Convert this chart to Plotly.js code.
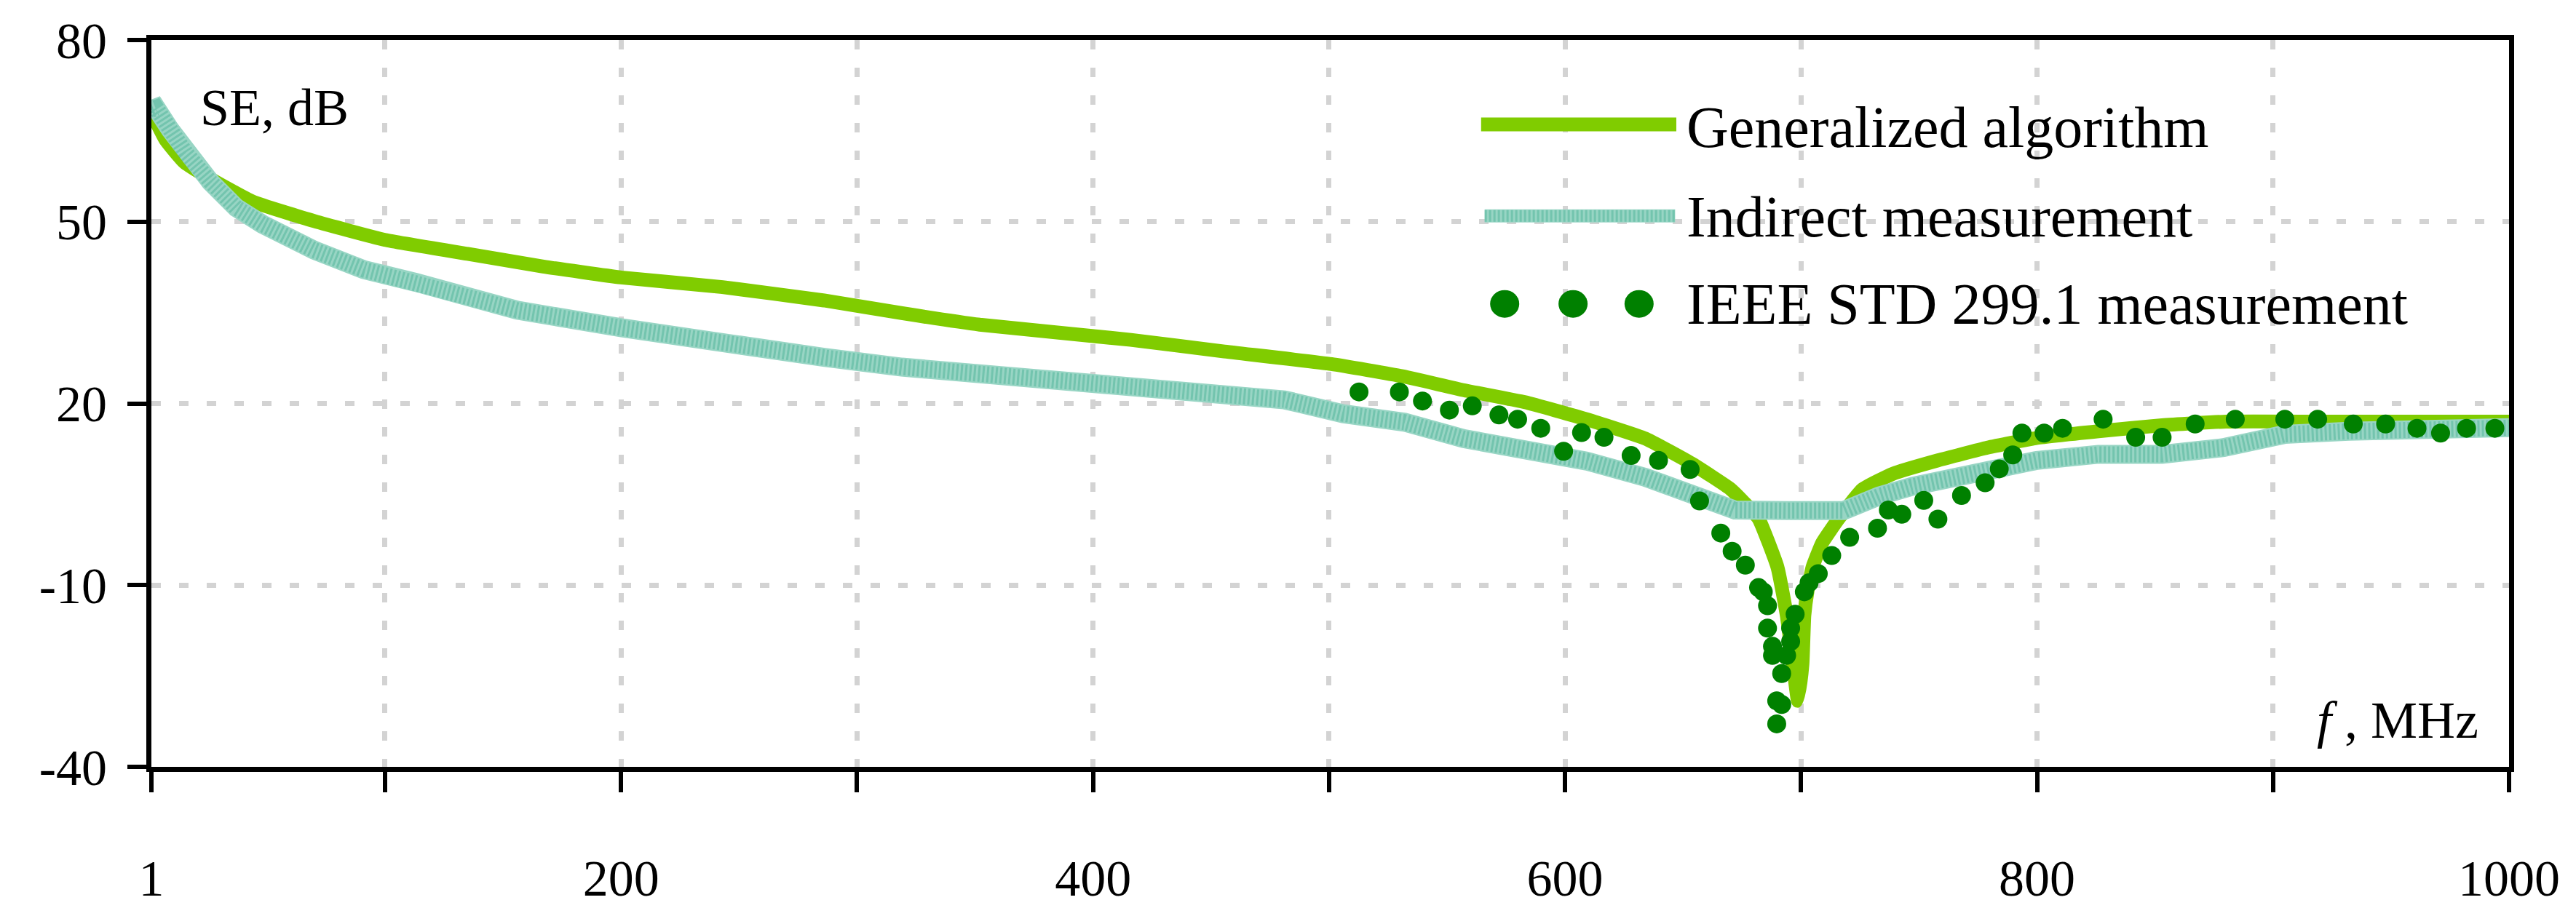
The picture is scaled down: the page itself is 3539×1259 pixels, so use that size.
<!DOCTYPE html>
<html><head><meta charset="utf-8">
<script src="https://cdn.plot.ly/plotly-3.0.1.min.js"></script>
<style>html,body{margin:0;padding:0;background:#fff}#chart{width:3539px;height:1259px}</style>
</head><body><div id="chart"></div>
<script>
// ---- data ----
const genFreq = [1, 7, 15, 26, 44, 70, 100, 135, 167, 200, 243, 286, 319, 352, 416, 455, 501, 531, 557, 583, 609, 634, 654, 670, 676, 682, 690, 694, 696.6, 698.7, 700.6, 701.4, 702.7, 704.9, 709, 716, 726, 739, 758, 779, 800, 826, 853, 880, 920, 960, 1000];
const genSE = [68.1, 63.5, 59.8, 57.1, 53.3, 50.1, 47.0, 44.7, 42.6, 40.8, 39.2, 37.0, 34.9, 33.0, 30.5, 28.6, 26.5, 24.5, 22.2, 20.2, 17.4, 14.2, 10.0, 5.9, 3.6, 1.0, -7.0, -15.1, -23.1, -29.1, -23.0, -15.0, -11.1, -7.0, -3.0, 1.0, 5.8, 8.4, 10.6, 12.7, 14.3, 15.4, 16.4, 17.0, 17.0, 17.0, 17.0];

const indFreq = [1, 3, 9, 15.5, 26, 37, 48, 70, 91, 113, 135, 156, 200, 243, 286, 319, 378, 430, 481, 506, 532, 557, 583, 609, 634, 660, 672, 694, 718, 733, 747, 773, 800, 826, 853, 879, 905, 932, 958, 1000];
const indSE = [68.5, 68.8, 65.2, 61.4, 56.6, 52.3, 49.6, 45.3, 42.1, 40.0, 37.3, 35.4, 32.5, 29.8, 27.6, 26.0, 23.8, 22.0, 20.6, 18.3, 16.9, 14.2, 12.3, 10.5, 7.8, 4.5, 2.4, 2.3, 2.3, 4.7, 6.3, 8.4, 10.6, 11.6, 11.6, 12.7, 14.9, 15.4, 15.4, 16.0];

const ieeeFreq = [512.7, 529.8, 539.6, 551, 560.7, 572, 579.9, 589.7, 599.4, 607, 616.5, 628, 639.6, 653, 657, 666, 670.8, 676.4, 682, 684, 685.8, 685.8, 687.9, 687.9, 689.7, 689.7, 691.8, 691.8, 693.9, 695.6, 695.6, 697.5, 701.4, 703.4, 707.3, 713, 720.6, 732.4, 737, 742.7, 752, 758, 768, 778, 784, 789.7, 793.6, 803, 810.8, 828, 841.8, 853, 867, 884, 905, 918.9, 934, 947.7, 961, 971, 982, 994];
const ieeeSE = [21.9, 21.9, 20.4, 18.9, 19.6, 18.1, 17.4, 15.9, 12.1, 15.2, 14.4, 11.4, 10.6, 9.1, 3.9, -1.4, -4.4, -6.7, -10.4, -11.1, -13.4, -17.1, -20.1, -21.6, -29.1, -32.9, -24.6, -29.7, -21.6, -19.3, -17.1, -14.8, -11.1, -9.6, -8.1, -5.1, -2.1, -0.6, 2.4, 1.7, 4.0, 0.9, 4.8, 6.9, 9.2, 11.5, 15.1, 15.1, 15.9, 17.4, 14.4, 14.4, 16.6, 17.4, 17.4, 17.4, 16.6, 16.6, 15.9, 15.1, 15.9, 15.9];

const xTickVals = [1, 100, 200, 300, 400, 500, 600, 700, 800, 900, 1000];
const xTickText = ['1', '', '200', '', '400', '', '600', '', '800', '', '1000'];
const yTickVals = [-40, -10, 20, 50, 80];
const yTickText = ['-40', '-10', '20', '50', '80'];
const seriesNames = ['Generalized algorithm', 'Indirect measurement', 'IEEE STD 299.1 measurement'];
const yAxisLabel = 'SE, dB';
const xAxisLabel = '<i>f</i> , MHz';

// ---- styling ----
const FONT = 'Liberation Serif, Times New Roman, serif';
const C_GEN = '#80CC00';
const C_IND = '#98d5c4';
const C_IND_DARK = '#2fa586';
const C_IEEE = '#008000';

const traces = [
  {x: genFreq, y: genSE, name: seriesNames[0], mode: 'lines', type: 'scatter',
   line: {color: C_GEN, width: 19, shape: 'spline', smoothing: 0.4}},
  {x: indFreq, y: indSE, name: seriesNames[1], mode: 'lines', type: 'scatter',
   line: {color: C_IND, width: 26}},
  {x: indFreq, y: indSE, name: seriesNames[1], mode: 'lines', type: 'scatter', opacity: 0.35,
   line: {color: C_IND_DARK, width: 22, dash: '3px,3px'}, hoverinfo: 'skip'},
  {x: ieeeFreq, y: ieeeSE, name: seriesNames[2], mode: 'markers', type: 'scatter',
   marker: {color: C_IEEE, size: 26, line: {width: 0}}}
];

// manual legend (symbols + text), placed in paper coordinates
const legX0 = 0.564, legX1 = 0.6468, legTextX = 0.6505;
const legY = [0.884, 0.758, 0.637];
const legTextY = [0.880, 0.757, 0.637];
const shapes = [
  {type: 'line', xref: 'paper', yref: 'paper', x0: legX0, x1: legX1, y0: legY[0], y1: legY[0],
   line: {color: C_GEN, width: 19}},
  {type: 'line', xref: 'paper', yref: 'paper', x0: legX0 + 0.0015, x1: legX1 - 0.0005, y0: legY[1], y1: legY[1],
   line: {color: C_IND, width: 18}},
  {type: 'line', xref: 'paper', yref: 'paper', x0: legX0 + 0.0015, x1: legX1 - 0.0005, y0: legY[1], y1: legY[1],
   opacity: 0.35, line: {color: C_IND_DARK, width: 16, dash: '3px,3px'}}
];
[0.574, 0.603, 0.631].forEach(function (px) {
  shapes.push({type: 'circle', xref: 'paper', yref: 'paper', xsizemode: 'pixel', ysizemode: 'pixel',
    xanchor: px, yanchor: legY[2], x0: -20, x1: 20, y0: -19, y1: 19,
    fillcolor: C_IEEE, line: {width: 0}});
});

const annotations = seriesNames.map(function (n, i) {
  return {text: n, xref: 'paper', yref: 'paper', x: legTextX, y: legTextY[i],
    xanchor: 'left', yanchor: 'middle', showarrow: false,
    font: {family: FONT, size: 80, color: '#000'}};
});
annotations.push({text: yAxisLabel, xref: 'paper', yref: 'paper', x: 0.020, y: 0.907,
  xanchor: 'left', yanchor: 'middle', showarrow: false,
  font: {family: FONT, size: 72, color: '#000'}});
annotations.push({text: xAxisLabel, xref: 'paper', yref: 'paper', x: 0.9877, y: 0.064,
  xanchor: 'right', yanchor: 'middle', showarrow: false,
  font: {family: FONT, size: 72, color: '#000'}});

const layout = {
  width: 3539, height: 1259,
  margin: {l: 208, r: 92, t: 55, b: 205, pad: 0},
  paper_bgcolor: '#fff', plot_bgcolor: '#fff',
  showlegend: false,
  font: {family: FONT, size: 70, color: '#000'},
  xaxis: {
    range: [1, 1000], tickmode: 'array', tickvals: xTickVals, ticktext: xTickText,
    ticks: 'outside', ticklen: 28, tickwidth: 6, tickcolor: '#000',
    showline: true, linewidth: 7, linecolor: '#000', mirror: true,
    showgrid: true, gridcolor: '#d3d3d3', gridwidth: 7, griddash: '13px,25px',
    zeroline: false, ticklabelstandoff: 58,
    tickfont: {family: FONT, size: 70, color: '#000'}
  },
  yaxis: {
    range: [-40, 80], tickmode: 'array', tickvals: yTickVals, ticktext: yTickText,
    ticks: 'outside', ticklen: 26, tickwidth: 6, tickcolor: '#000',
    showline: true, linewidth: 7, linecolor: '#000', mirror: true,
    showgrid: true, gridcolor: '#d3d3d3', gridwidth: 7, griddash: '13px,25px',
    zeroline: false, ticklabelstandoff: 14,
    tickfont: {family: FONT, size: 70, color: '#000'}
  },
  shapes: shapes,
  annotations: annotations
};

Plotly.newPlot('chart', traces, layout, {displayModeBar: false, staticPlot: true});
</script>
</body></html>
